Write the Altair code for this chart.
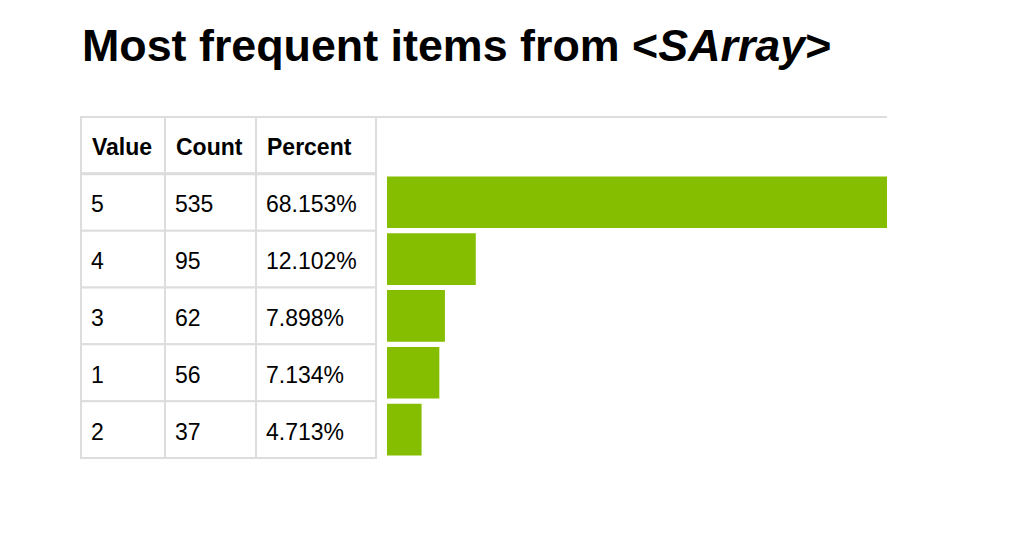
import altair as alt
import pandas as pd

# ---- data -------------------------------------------------------------
title_parts = ["Most frequent items from <", "SArray", ">"]
headers = ["Value", "Count", "Percent"]
values = ["5", "4", "3", "1", "2"]
counts = [535, 95, 62, 56, 37]
percents = ["68.153%", "12.102%", "7.898%", "7.134%", "4.713%"]

# ---- style ------------------------------------------------------------
GREEN = "#85bd00"
GRID = "#dddddd"
FONT = "Liberation Sans"
TITLE_SIZE = 44.8
CELL_SIZE = 23
COL_W = [84, 91, 120]
BAR_W = 511
TABLE_H = 341
N_ROWS = len(values) + 1

# Liberation Sans Bold (Arial-metric) advance widths, 1/1000 em
ADV = {"M": 833, "o": 611, "s": 556, "t": 333, " ": 278, "f": 333, "r": 389,
       "e": 556, "q": 611, "u": 611, "n": 611, "i": 278, "m": 889, "<": 584,
       "S": 667, "A": 722, "a": 556, "y": 556, ">": 584}


def tw(s, size):
    return sum(ADV[c] for c in s) * size / 1000.0


# ---- title ------------------------------------------------------------
offsets = [0.0]
for p in title_parts[:-1]:
    offsets.append(offsets[-1] + tw(p, TITLE_SIZE))

title_layers = []
for part, off, style in zip(title_parts, offsets, ["normal", "italic", "normal"]):
    title_layers.append(
        alt.Chart(pd.DataFrame({"t": [part]}))
        .mark_text(align="left", baseline="alphabetic", font=FONT,
                   fontSize=TITLE_SIZE, fontStyle=style, fontWeight="bold",
                   color="black")
        .encode(text="t:N", x=alt.value(off + 1), y=alt.value(53))
    )
title_view = alt.layer(*title_layers).properties(width=sum(COL_W) + BAR_W, height=109)

# ---- table ------------------------------------------------------------
row_scale = alt.Scale(domain=list(range(N_ROWS)), paddingInner=0, paddingOuter=0)
columns = [values, [str(c) for c in counts], percents]

panels = []
for head, col, w in zip(headers, columns, COL_W):
    df = pd.DataFrame({
        "row": list(range(N_ROWS)),
        "label": [head] + col,
        "hdr": [1] + [0] * len(col),
    })
    base = alt.Chart(df)
    cells = base.mark_rect(fill="white", stroke=GRID, strokeWidth=2).encode(
        y=alt.Y("row:O", axis=None, scale=row_scale),
        x=alt.value(0), x2=alt.value(w),
    )
    hline = base.transform_filter("datum.hdr == 1").mark_rule(stroke=GRID, strokeWidth=3).encode(
        y=alt.Y("row:O", axis=None, scale=row_scale, bandPosition=1),
        x=alt.value(0), x2=alt.value(w),
    )
    head_txt = base.transform_filter("datum.hdr == 1").mark_text(
        align="left", baseline="alphabetic", font=FONT, fontSize=CELL_SIZE,
        fontWeight="bold", color="black", dy=10).encode(
        y=alt.Y("row:O", axis=None, scale=row_scale),
        x=alt.value(11),
        text="label:N",
    )
    body_txt = base.transform_filter("datum.hdr == 0").mark_text(
        align="left", baseline="alphabetic", font=FONT, fontSize=CELL_SIZE,
        color="black", dy=10).encode(
        y=alt.Y("row:O", axis=None, scale=row_scale),
        x=alt.value(10),
        text="label:N",
    )
    panels.append(alt.layer(cells, hline, head_txt, body_txt).properties(width=w, height=TABLE_H))

# ---- bars -------------------------------------------------------------
bar_df = pd.DataFrame({"row": list(range(1, N_ROWS)), "count": counts})
bars = alt.Chart(bar_df).mark_bar(color=GREEN, height={"band": 0.91}).encode(
    x=alt.X("count:Q", axis=None,
            scale=alt.Scale(domain=[0, max(counts)], range=[11, BAR_W], nice=False, zero=True)),
    y=alt.Y("row:O", axis=None, scale=row_scale),
)
top_rule = alt.Chart(pd.DataFrame({"a": [0]})).mark_rule(stroke=GRID, strokeWidth=2).encode(
    x=alt.value(0), x2=alt.value(BAR_W), y=alt.value(0),
)
panels.append(alt.layer(top_rule, bars).properties(width=BAR_W, height=TABLE_H))

table_row = alt.hconcat(*panels, spacing=0, bounds="flush")

chart = (
    alt.vconcat(title_view, table_row, spacing=0, bounds="flush",
                padding={"left": 71, "top": 0, "right": 0, "bottom": 0})
    .configure(background="white")
    .configure_view(stroke=None, strokeWidth=0)
)

chart.save("out.html", embed_options={"renderer": "svg", "actions": False})
